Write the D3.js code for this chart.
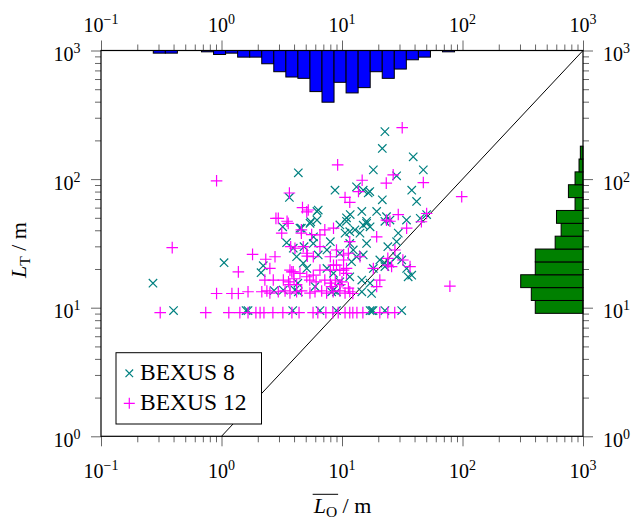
<!DOCTYPE html>
<html>
<head>
<meta charset="utf-8">
<script src="https://cdn.jsdelivr.net/npm/d3@7"></script>
<style>
  body { margin: 0; background: #fff; }
  text { font-family: "Liberation Serif", "DejaVu Serif", serif; fill: #000; }
</style>
</head>
<body>
<div id="chart"></div>
<script>
// BEXUS 8 points: [L_O, L_T] in m
var bexus8 = [
  [22.7,234],[21.6,173],[39,149],[18.2,118],[47.3,118],[28.4,106],[4.34,112],[8.75,82],[13.2,87],[15,82],
  [16.5,78],[17,80],[37.9,82],[3.66,72],[21.6,69],[41.6,67],[6.35,57.5],[11.7,53],[14.6,56],[19.4,56],
  [10.9,50],[34.3,48],[50.4,53],[16,47],[22.7,47],[44.6,49.5],[23.4,51],[25,48],
  [3.22,42.6],[4.48,41.5],[5.43,45.3],[6.2,48],[9.6,44],[10.9,47],[5.5,46.6],[6.2,56],[15,43.8],[16,45.3],
  [17.1,42.6],[10.6,38],[11.6,39],[12.8,40.3],[14.1,38],[29.3,38],[24,29.8],[28.4,32.6],[16,31.6],[11.6,31.6],
  [12.4,28.1],[15,25.7],[12,22.8],[13.2,24.9],[20.6,23.5],[22.7,22.2],[25,22.2],[28.4,24.9],[31.3,23.5],[34.4,20.2],
  [37.9,17.9],[35.4,17.4],[18.2,20.2],[22.7,20.9],[11.6,17.4],[14.6,16.4],[17.1,15.5],[9.6,15.9],[8.5,13.7],[8.2,13.3],
  [14.6,13.3],[17.6,12.9],[3.47,32],[3.94,29],[5.78,31.6],[8,32.6],[4.84,29.8],[4.2,24.9],[4.77,22.2],[5.1,20.2],
  [2.22,21.2],[2.13,18.7],[6.35,25.7],[7.5,28.1],[9.6,26.5],[7.5,20.2],[8.5,18.5],[5.8,35.6],[4.6,41.5],[4.3,15.5],
  [2.73,13.6],[3.26,13.7],[4.07,13.7],[4.34,13.3],[5.97,14.6],[9,13.3],[1.05,22.4],[0.27,15.5],
  [0.40,9.5],[1.6,9.5],[1.66,9.5],[3.9,9.5],[6.56,9.5],[9.0,9.5],[17.1,9.5],[17.7,9.5],[18.1,9.5],[22.7,9.5],[31.3,9.5]
];

// BEXUS 12 points: [L_O, L_T] in m
var bexus12 = [
  [31.6,251],[9.2,129],[14.7,98],[26.6,108],[23.3,93],[47.3,94],[13.7,80],[10.6,72],[11.6,66],[98.5,73],
  [29.3,53],[23.4,48],[25,47],[50.4,54],[45.6,46.6],[0.91,97],[3.66,78],[4.7,60],[5.25,57.5],[2.83,49.5],
  [3.5,47],[3.16,38],[4.6,38],[3.75,29.8],[5.15,25.2],[2.33,23.8],[2.78,24.9],[2.52,20.2],[3.83,19],[2.29,16.4],
  [2.69,16.4],[0.39,29.3],[1.38,19],[1.81,26],[0.91,12.9],[1.22,12.9],[1.38,12.9],[1.66,13.3],[2.96,49.5],[3.58,45.3],
  [4.6,40.3],[5.6,37],[6.56,36.8],[4.07,29],[4.77,29.8],[5.1,55.7],[7.2,40.3],[8.5,41.5],[6.56,29.8],[9.0,28.1],
  [8.0,24.9],[10.3,23.5],[5.1,26.5],[5.78,24.9],
  [34.4,41.5],[19.4,35.6],[11.6,32.6],[10.3,25.7],[11.3,26.5],[14.1,24.9],[24,24.2],[27.5,28.1],[24,21.4],[25.8,20.9],
  [32,23.5],[36.7,20.9],[18.2,20.2],[20.6,16.4],[19.4,14.6],[10.3,19.6],[10.9,18.5],[8.5,21.4],[9.6,15.1],[11.3,14.2],[78.6,14.7],
  [3.7,19.6],[3.94,19],[4.48,18.5],[5.1,17.4],[5.78,17.9],[6.56,19.6],[8.0,19.6],[9.0,21.4],[9.6,19.6],[10.9,20.2],
  [3.26,16.4],[3.6,15.9],[4.0,16.8],[5.4,16.4],[6.1,15.9],[7.2,16.4],[8.0,15.5],[8.8,16.4],[10.0,15.9],[3.7,15.1],[4.2,15.1],
  [2.16,13.3],[2.38,13.5],[2.52,13.0],[2.96,13.3],[3.37,13.5],[3.70,13.0],[4.2,13.3],[4.62,13.5],[5.42,13.0],[5.97,13.3],
  [6.78,13.5],[7.45,13.0],[8.45,13.3],[9.6,13.5],[10.6,13.0],[8.2,14.6],[11.6,13.3],[12.3,12.9],
  [0.31,9.15],[0.74,9.15],[1.15,9.15],[1.42,9.15],[1.66,9.15],[1.93,9.15],[2.09,9.15],[2.25,9.15],[2.67,9.15],[3.23,9.15],
  [3.84,9.15],[4.4,9.15],[5.75,9.15],[6.3,9.15],[7.35,9.15],[8.4,9.15],[9.3,9.15],[10.6,9.15],[11.6,9.15],[12.3,9.15],
  [13.3,9.15],[14.9,9.15],[20.6,9.15],[24.0,9.15],[27.4,9.15]
];

// histogram of L_O (top), bins of 0.1 decade starting at 0.27 m
var topBinStart = 0.2716;
var topCounts = [2,2,0,0,1,3,2,5,5,10,16,20,21,31,39,24,32,28,16,21,14,7,5,0,1];

// histogram of L_T (right), bins of 0.1 decade starting at 9.04 m, from bottom up
var rightBinStart = 9.04;
var rightCounts = [36,39,47,36,36,21,16.5,20,6,11,6,3,2];

var binStep = 0.1; // decades

var tickValues = [0.1, 1, 10, 100, 1000];
var tickExps = ["\u22121", "0", "1", "2", "3"];
var yTickValues = [1, 10, 100, 1000];
var yTickExps = ["0", "1", "2", "3"];

var seriesNames = ["BEXUS 8", "BEXUS 12"];
var seriesColors = ["#008080", "#ff00ff"];

var svg_width = 639, svg_height = 521;
var plot_left = 101, plot_right = 583, plot_top = 50.5, plot_bottom = 436.3;

var svg = d3.select("#chart").append("svg")
  .attr("width", svg_width)
  .attr("height", svg_height);

var x_scale = d3.scaleLog().domain([0.1, 1000]).range([plot_left, plot_right]);
var y_scale = d3.scaleLog().domain([1, 1000]).range([plot_bottom, plot_top]);
var count_scale = d3.scaleLinear().domain([0, 39]).range([0, 51.7]);

// minor ticks 2..9 per decade
function minorTicks(lo, hi) {
  var t = [];
  for (var e = lo; e < hi; e++) {
    for (var m = 2; m <= 9; m++) t.push(m * Math.pow(10, e));
  }
  return t;
}

var xMinor = minorTicks(-1, 3);
var yMinor = minorTicks(0, 3);

function addAxis(axisFn, scale, major, minor, transform) {
  var g = svg.append("g").attr("transform", transform);
  g.call(axisFn(scale).tickValues(major).tickSize(10).tickSizeOuter(0).tickFormat(""));
  g.select(".domain").remove();
  var g2 = svg.append("g").attr("transform", transform);
  g2.call(axisFn(scale).tickValues(minor).tickSize(6).tickSizeOuter(0).tickFormat(""));
  g2.select(".domain").remove();
  svg.selectAll(".tick line").attr("stroke", "#666").attr("stroke-width", 1);
}

addAxis(d3.axisBottom, x_scale, tickValues, xMinor, `translate(0, ${plot_bottom})`);
addAxis(d3.axisTop, x_scale, tickValues, xMinor, `translate(0, ${plot_top})`);
addAxis(d3.axisLeft, y_scale, yTickValues, yMinor, `translate(${plot_left}, 0)`);
addAxis(d3.axisRight, y_scale, yTickValues, yMinor, `translate(${plot_right}, 0)`);

// tick labels with superscripts
function powLabel(x, y, anchor, exp) {
  var t = svg.append("text")
    .attr("x", x).attr("y", y)
    .attr("text-anchor", anchor)
    .style("font-size", "20px");
  t.append("tspan").text("10");
  t.append("tspan").attr("dy", -8).style("font-size", "14px").text(exp);
}

tickValues.forEach(function(v, i) {
  powLabel(x_scale(v), 477.7, "middle", tickExps[i]);
  powLabel(x_scale(v), 31.5, "middle", tickExps[i]);
});
yTickValues.forEach(function(v, i) {
  powLabel(80.5, y_scale(v) + 10.5, "end", yTickExps[i]);
  powLabel(603, y_scale(v) + 10.5, "start", yTickExps[i]);
});

// top histogram (hanging down)
var topBins = topCounts.map(function(c, i) {
  return { x0: topBinStart * Math.pow(10, i * binStep), x1: topBinStart * Math.pow(10, (i + 1) * binStep), n: c };
}).filter(function(d) { return d.n > 0; });

svg.append("g").selectAll("rect")
  .data(topBins)
  .enter().append("rect")
  .attr("x", function(d) { return x_scale(d.x0); })
  .attr("width", function(d) { return x_scale(d.x1) - x_scale(d.x0); })
  .attr("y", plot_top)
  .attr("height", function(d) { return count_scale(d.n); })
  .attr("fill", "#0000ff")
  .attr("stroke", "#000")
  .attr("stroke-width", 1);

// right histogram (extending left)
var rightBins = rightCounts.map(function(c, i) {
  return { y0: rightBinStart * Math.pow(10, i * binStep), y1: rightBinStart * Math.pow(10, (i + 1) * binStep), n: c };
}).filter(function(d) { return d.n > 0; });

svg.append("g").selectAll("rect")
  .data(rightBins)
  .enter().append("rect")
  .attr("x", function(d) { return plot_right - count_scale(d.n); })
  .attr("width", function(d) { return count_scale(d.n); })
  .attr("y", function(d) { return y_scale(d.y1); })
  .attr("height", function(d) { return y_scale(d.y0) - y_scale(d.y1); })
  .attr("fill", "#008000")
  .attr("stroke", "#000")
  .attr("stroke-width", 1);

// 1:1 line
svg.append("line")
  .attr("x1", x_scale(1)).attr("y1", y_scale(1))
  .attr("x2", x_scale(1000)).attr("y2", y_scale(1000))
  .attr("stroke", "#000")
  .attr("stroke-width", 1);

var crossPath = "M-4.2,-4.2L4.2,4.2M-4.2,4.2L4.2,-4.2";
var plusPath = "M-5.8,0H5.8M0,-5.8V5.8";
var markerPaths = [crossPath, plusPath];

[bexus8, bexus12].forEach(function(data, k) {
  svg.append("g").selectAll("path")
    .data(data)
    .enter().append("path")
    .attr("transform", function(d) { return `translate(${x_scale(d[0])}, ${y_scale(d[1])})`; })
    .attr("d", markerPaths[k])
    .attr("fill", "none")
    .attr("stroke", seriesColors[k])
    .attr("stroke-width", 1.2);
});

// frame
svg.append("rect")
  .attr("x", plot_left).attr("y", plot_top)
  .attr("width", plot_right - plot_left).attr("height", plot_bottom - plot_top)
  .attr("fill", "none")
  .attr("stroke", "#000")
  .attr("stroke-width", 1.2);

// legend
var legend = svg.append("g");
legend.append("rect")
  .attr("x", 116).attr("y", 352.7)
  .attr("width", 145.5).attr("height", 71.3)
  .attr("fill", "#fff")
  .attr("stroke", "#000")
  .attr("stroke-width", 1);
seriesNames.forEach(function(name, k) {
  var yy = 373.3 + k * 30;
  legend.append("path")
    .attr("transform", `translate(129.3, ${yy})`)
    .attr("d", k === 0 ? "M-3.8,-3.8L3.8,3.8M-3.8,3.8L3.8,-3.8" : "M-5.5,0H5.5M0,-5.5V5.5")
    .attr("fill", "none")
    .attr("stroke", seriesColors[k])
    .attr("stroke-width", 1.2);
  legend.append("text")
    .attr("x", 140).attr("y", yy + 7)
    .style("font-size", "23.5px")
    .text(name);
});

// axis titles
var xt = svg.append("text")
  .attr("x", 342.5).attr("y", 513.3)
  .attr("text-anchor", "middle")
  .style("font-size", "22px");
xt.append("tspan").style("font-style", "italic").text("L");
xt.append("tspan").attr("dy", 4).style("font-size", "15.5px").text("O");
xt.append("tspan").attr("dy", -4).text(" / m");
var xtNode = xt.node();
var ox0 = xtNode.getStartPositionOfChar(0).x;
var ox1 = xtNode.getEndPositionOfChar(1).x;
svg.append("line")
  .attr("x1", ox0 - 1).attr("x2", ox1 + 1)
  .attr("y1", 494.3).attr("y2", 494.3)
  .attr("stroke", "#000").attr("stroke-width", 1);

var yt = svg.append("text")
  .attr("transform", "translate(26, 250) rotate(-90)")
  .attr("text-anchor", "middle")
  .style("font-size", "22px");
yt.append("tspan").style("font-style", "italic").text("L");
yt.append("tspan").attr("dy", 4).style("font-size", "15.5px").text("T");
yt.append("tspan").attr("dy", -4).text(" / m");
</script>
</body>
</html>
